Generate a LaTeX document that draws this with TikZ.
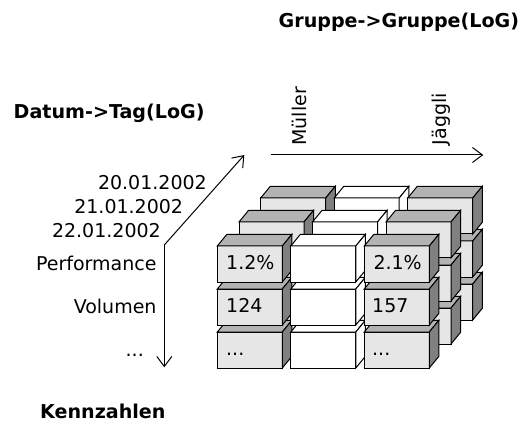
\documentclass[tikz,border=0pt]{standalone}
\usepackage{fontspec}
\setmainfont{DejaVu Sans}
\usetikzlibrary{arrows.meta}
\definecolor{cubefront}{HTML}{E6E6E6}
\definecolor{cubetop}{HTML}{B3B3B3}
\definecolor{cubeside}{HTML}{808080}

\begin{document}
\begin{tikzpicture}[x=1pt,y=-1pt,line join=miter,
  lbl/.style={inner sep=0pt,font=\fontsize{19}{22}\selectfont},
  hdr/.style={inner sep=0pt,font=\fontsize{19.1}{22}\selectfont\bfseries},
  axis/.style={line width=1pt,-{Straight Barb[length=10pt,width=15pt]}},
  face/.style={draw=black,line width=1pt}]
\useasboundingbox (0,0) rectangle (520,425);

% 3 x 3 x 3 block of cells, painted from back to front, bottom to top, left to right
\foreach \k in {2,1,0}{
  \foreach \j in {2,1,0}{
    \foreach \i in {0,1,2}{
      \pgfmathsetmacro\bx{217.3+73.5*\i+21.7*\k}
      \pgfmathsetmacro\by{246+43*\j-24*\k}
      \ifnum\i=1
        \def\cf{white}\def\ct{white}\def\cs{white}
      \else
        \def\cf{cubefront}\def\ct{cubetop}\def\cs{cubeside}
      \fi
      \filldraw[face,fill=\cf] (\bx,\by) rectangle ++(65,36);
      \filldraw[face,fill=\ct] (\bx,\by) -- ++(9.6,-11.7) -- ++(65,0) -- ++(-9.6,11.7) -- cycle;
      \filldraw[face,fill=\cs] (\bx+65,\by) -- ++(9.6,-11.7) -- ++(0,36) -- ++(-9.6,11.7) -- cycle;
    }
  }
}

% values in the front cells
\node[lbl,anchor=base west] (v11) at (226,269.6) {1.2\%};
\node[lbl,anchor=base west] (v13) at (373.3,269.6) {2.1\%};
\node[lbl,anchor=base west] (v21) at (226,312.3) {124};
\node[lbl,anchor=base west] (v23) at (372,312.3) {157};
\node[lbl,anchor=base west] (v31) at (226,355.5) {...};
\node[lbl,anchor=base west] (v33) at (372,355.5) {...};

% axes
\coordinate (o) at (164.3,245);
\coordinate (down) at (164.3,367.3);
\coordinate (diag) at (244.3,155);
\coordinate (hs) at (270.7,155);
\coordinate (he) at (483.3,155);
\draw[axis] (o) -- (down);
\draw[axis] (o) -- (diag);
\draw[axis] (hs) -- (he);

% headings
\node[hdr,anchor=base west] (grp) at (278.5,28) {Gruppe->Gruppe(LoG)};
\node[hdr,anchor=base west] (dat) at (13.5,118.3) {Datum->Tag(LoG)};
\node[hdr,anchor=base west] (kz) at (40,418.3) {Kennzahlen};

% members along the axes
\node[lbl,anchor=base east] (d1) at (207,189.3) {20.01.2002};
\node[lbl,anchor=base east] (d2) at (183.3,213.3) {21.01.2002};
\node[lbl,anchor=base east] (d3) at (161,237.3) {22.01.2002};
\node[lbl,anchor=base east] (m1) at (156.7,270.7) {Performance};
\node[lbl,anchor=base east] (m2) at (156.7,313.3) {Volumen};
\node[lbl,anchor=base east] (m3) at (144,356.7) {...};
\node[lbl,rotate=90,anchor=base west] (g1) at (306.5,145.7) {Müller};
\node[lbl,rotate=90,anchor=base west] (g2) at (446.5,145.3) {Jäggli};
\end{tikzpicture}
\end{document}
